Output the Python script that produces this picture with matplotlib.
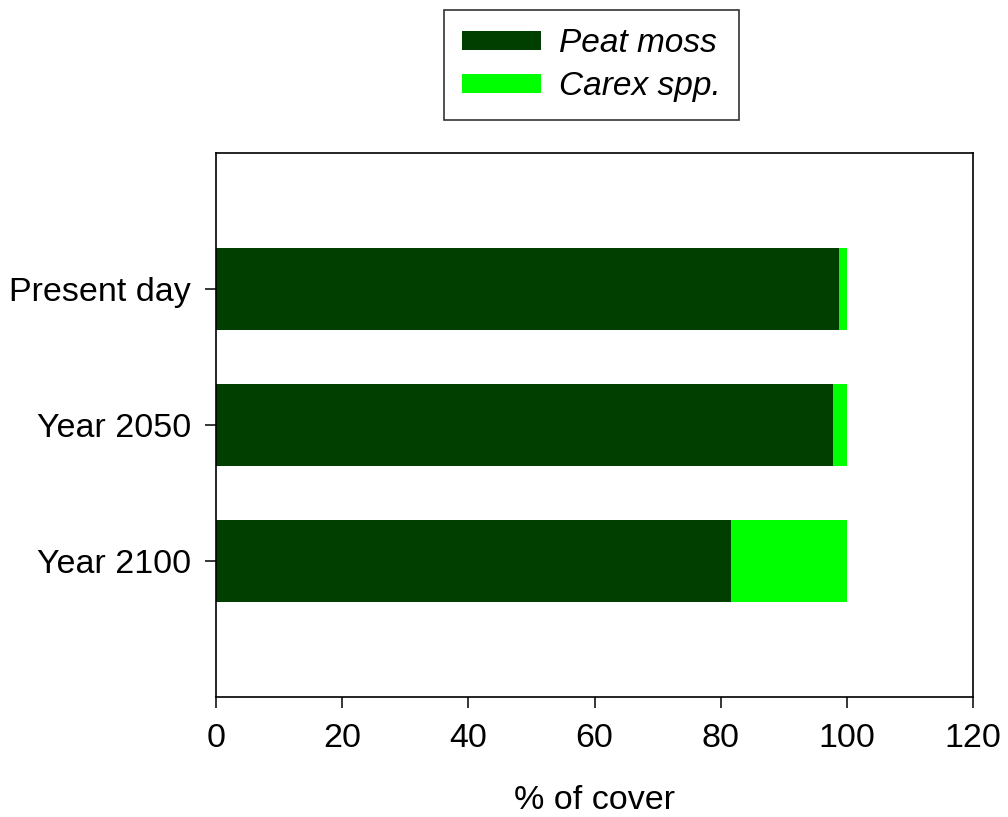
import numpy as np
import matplotlib.pyplot as plt

categories = ["Present day", "Year 2050", "Year 2100"]
peat_moss = [98.8, 97.8, 81.7]
carex = [1.2, 2.3, 18.3]
x_ticks = [0, 20, 40, 60, 80, 100, 120]

plt.rcParams['font.family'] = ['Liberation Sans', 'DejaVu Sans']

fig = plt.figure(figsize=(10.08, 8.17), dpi=100)
ax = fig.add_axes([0.2143, 0.1469, 0.7510, 0.6658])

y = np.arange(len(categories))
ax.barh(y, peat_moss, height=0.6, color='#003f00', label='Peat moss')
ax.barh(y, carex, left=peat_moss, height=0.6, color='#00ff00', label='Carex spp.')

ax.set_xlim(0, 120)
ax.set_ylim(3, -1)
ax.set_xticks(x_ticks)
ax.set_yticks(y)
ax.set_yticklabels(categories)
ax.tick_params(axis='both', labelsize=24.5, length=8, width=1.1, direction='out')
ax.tick_params(axis='y', pad=10)
ax.tick_params(axis='x', pad=11)
for s in ax.spines.values():
    s.set_linewidth(1.2)

ax.set_xlabel('% of cover', fontsize=24.5, labelpad=22)

leg = fig.legend(loc='upper left', bbox_to_anchor=(444 / 1008, 1 - 10 / 817),
                 prop={'style': 'italic', 'size': 24},
                 frameon=True, fancybox=False, edgecolor='black',
                 handlelength=2.35, handleheight=0.5, labelspacing=0.35,
                 handletextpad=0.55, borderpad=0.55, borderaxespad=0)
leg.get_frame().set_linewidth(1.2)

fig.savefig('out.png', dpi=100)
